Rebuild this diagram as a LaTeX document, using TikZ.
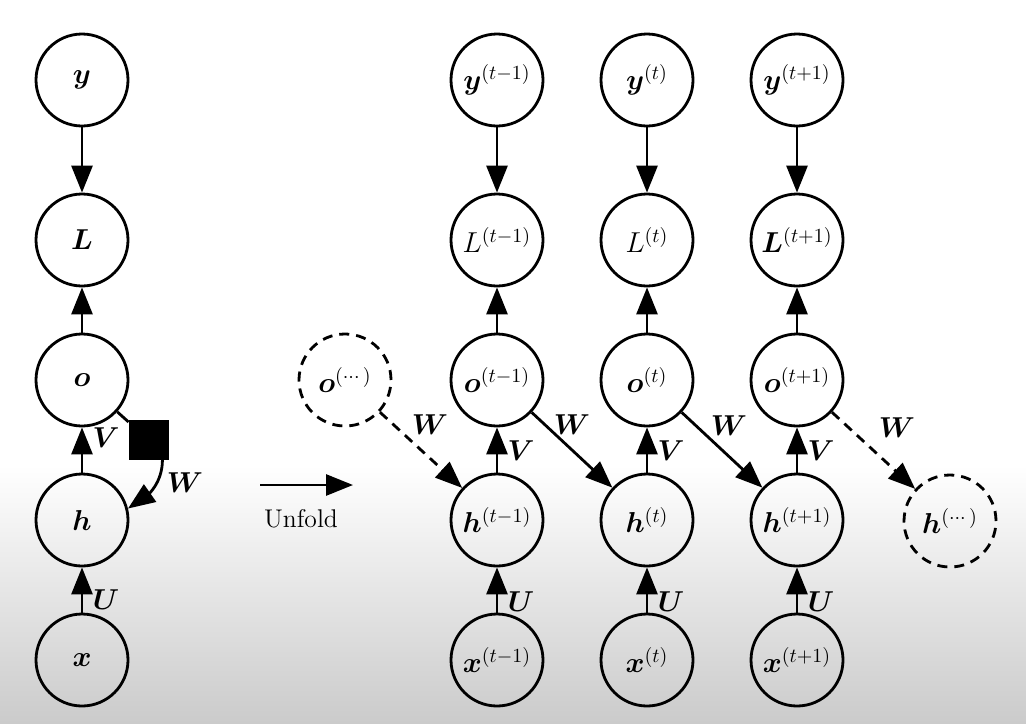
\documentclass[tikz,border=0pt]{standalone}
\usepackage{amsmath,bm}
\usetikzlibrary{arrows.meta}
\begin{document}
\begin{tikzpicture}[x=0.5pt,y=-0.5pt,
  var/.style={circle,draw,line width=1.4pt,minimum size=46pt,inner sep=0pt,font=\fontsize{14}{16}\selectfont},
  dvar/.style={var,dash pattern=on 5pt off 3.5pt},
  sqbox/.style={rectangle,fill=black,draw=black,minimum size=19.5pt,inner sep=0pt},
  arr/.style={line width=1.4pt,-{Triangle[length=13.5pt,width=10.5pt]}},
  darr/.style={arr,dash pattern=on 5pt off 3.5pt},
  plain/.style={line width=1.4pt},
  lab/.style={font=\fontsize{14}{16}\selectfont,inner sep=0pt},
]
% background
\useasboundingbox (0,0) rectangle (1026,723);
\fill[white] (0,0) rectangle (1026,466);
\shade[top color=white,bottom color={rgb,255:red,203;green,203;blue,203}] (0,465) rectangle (1026,723);

% left folded graph
\node[var] (y) at (82,80) {$\bm{y}$};
\node[var] (L) at (82,240) {$\bm{L}$};
\node[var] (o) at (82,380) {$\bm{o}$};
\node[var] (h) at (82,520) {$\bm{h}$};
\node[var] (x) at (82,660) {$\bm{x}$};
\node[sqbox] (sq) at (148.5,440) {};
\draw[arr] (y) -- (L);
\draw[arr] (o) -- (L);
\draw[arr] (h) -- (o);
\draw[arr] (x) -- (h);
\draw[plain] (o) -- (sq);
\draw[arr] (sq.-55) to[out=-90,in=35] (h.14);
\node[lab] (lV) at (106,438) {$\bm{V}$};
\node[lab] (lU) at (106,600) {$\bm{U}$};
\node[lab] (lW) at (185,483) {$\bm{W}$};

% unfold arrow
\coordinate (u1) at (260,485);
\coordinate (u2) at (353,485);
\draw[arr] (u1) -- (u2);
\node[lab,font=\fontsize{12.8}{15}\selectfont] (unf) at (301,519) {Unfold};

% unfolded columns
\node[var] (y1) at (497,80) {$\bm{y}^{(t-1)}$};
\node[var] (L1) at (497,240) {$L^{(t-1)}$};
\node[var] (o1) at (497,380) {$\bm{o}^{(t-1)}$};
\node[var] (h1) at (497,520) {$\bm{h}^{(t-1)}$};
\node[var] (x1) at (497,660) {$\bm{x}^{(t-1)}$};

\node[var] (y2) at (647,80) {$\bm{y}^{(t)}$};
\node[var] (L2) at (647,240) {$L^{(t)}$};
\node[var] (o2) at (647,380) {$\bm{o}^{(t)}$};
\node[var] (h2) at (647,520) {$\bm{h}^{(t)}$};
\node[var] (x2) at (647,660) {$\bm{x}^{(t)}$};

\node[var] (y3) at (797,80) {$\bm{y}^{(t+1)}$};
\node[var] (L3) at (797,240) {$\bm{L}^{(t+1)}$};
\node[var] (o3) at (797,380) {$\bm{o}^{(t+1)}$};
\node[var] (h3) at (797,520) {$\bm{h}^{(t+1)}$};
\node[var] (x3) at (797,660) {$\bm{x}^{(t+1)}$};

\node[dvar] (o0) at (345,380) {$\bm{o}^{(\cdots)}$};
\node[dvar] (h4) at (950,521) {$\bm{h}^{(\cdots)}$};

\foreach \i in {1,2,3}{
  \draw[arr] (y\i) -- (L\i);
  \draw[arr] (o\i) -- (L\i);
  \draw[arr] (h\i) -- (o\i);
  \draw[arr] (x\i) -- (h\i);
}
\draw[darr] (o0) -- (h1);
\draw[arr] (o1) -- (h2);
\draw[arr] (o2) -- (h3);
\draw[darr] (o3) -- (h4);

\node[lab] (V1) at (521,451) {$\bm{V}$};
\node[lab] (V2) at (671,451) {$\bm{V}$};
\node[lab] (V3) at (821,451) {$\bm{V}$};
\node[lab] (U1) at (521,602) {$\bm{U}$};
\node[lab] (U2) at (671,602) {$\bm{U}$};
\node[lab] (U3) at (821,602) {$\bm{U}$};
\node[lab] (W0) at (430,425) {$\bm{W}$};
\node[lab] (W1) at (572,425) {$\bm{W}$};
\node[lab] (W2) at (729,426) {$\bm{W}$};
\node[lab] (W3) at (897,428) {$\bm{W}$};
\end{tikzpicture}
\end{document}
